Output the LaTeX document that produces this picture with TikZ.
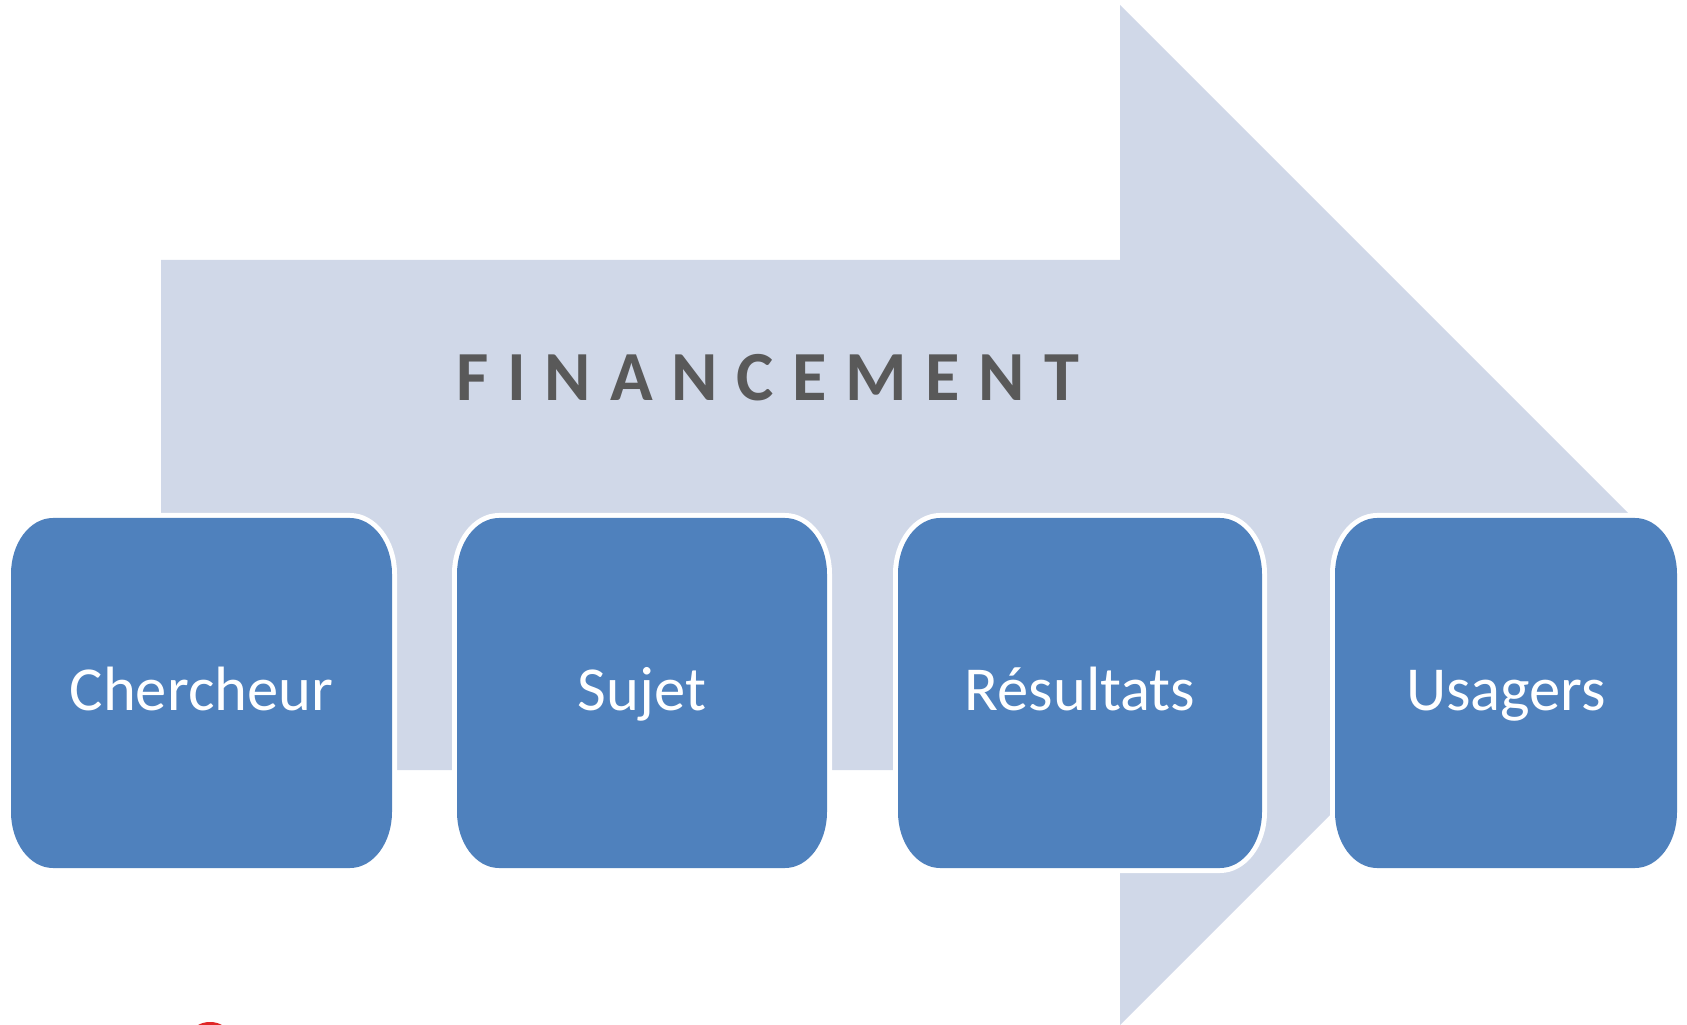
\documentclass[tikz,border=0pt]{standalone}
\usepackage{fontspec}
\setmainfont{Carlito}
\newfontfamily\finfont{Carlito}[LetterSpace=26.6]
\usetikzlibrary{backgrounds}
\definecolor{arrowfill}{HTML}{D0D8E8}
\definecolor{boxblue}{HTML}{4F81BD}
\definecolor{fintext}{HTML}{595959}
\definecolor{redmark}{HTML}{E02828}
% x1 y1 x2 y2 rx ry  (elliptical corners)
\newcommand\ellbox[6]{(#1+#5,#2) -- (#3-#5,#2) arc[start angle=-90,end angle=0,x radius=#5,y radius=#6] -- (#3,#4-#6) arc[start angle=0,end angle=90,x radius=#5,y radius=#6] -- (#1+#5,#4) arc[start angle=90,end angle=180,x radius=#5,y radius=#6] -- (#1,#2+#6) arc[start angle=180,end angle=270,x radius=#5,y radius=#6] -- cycle}
\tikzset{
  boxtext/.style={text=white, inner sep=0pt, anchor=base, font=\fontsize{31.3}{36}\selectfont},
  fintitle/.style={text=fintext, inner sep=0pt, anchor=base west, font=\finfont\bfseries\fontsize{35.2}{42}\selectfont},
}
\begin{document}
\begin{tikzpicture}[x=0.5pt,y=0.5pt]
\useasboundingbox (0,0) rectangle (1687,1024);
\begin{scope}
\clip (0,0) rectangle (1687,1024);
% big arrow
\fill[arrowfill] (161,764) -- (1120,764) -- (1120,1019) -- (1630,509) -- (1120,-1) -- (1120,254) -- (161,254) -- cycle;
% white outlines
\fill[white] \ellbox{6}{151}{397}{511}{47}{61};
\fill[white] \ellbox{452}{151}{832}{511}{47}{61};
\fill[white] \ellbox{893}{151}{1267}{511}{47}{61};
\fill[white] \ellbox{1330}{151}{1682}{511}{47}{61};
% blue boxes
\fill[boxblue] \ellbox{11}{156}{392}{506}{42}{56};
\fill[boxblue] \ellbox{457}{156}{827}{506}{42}{56};
\fill[boxblue] \ellbox{898}{156}{1262}{506}{42}{56};
\fill[boxblue] \ellbox{1335}{156}{1677}{506}{42}{56};
% red mark at bottom edge
\fill[redmark] (210,-10) ellipse[x radius=18, y radius=12];
\end{scope}
\node[fintitle] (fin) at (456,623) {FINANCEMENT};
\node[boxtext] (chercheur) at (201.5,314) {Chercheur};
\node[boxtext] (sujet) at (642,314) {Sujet};
\node[boxtext] (resultats) at (1080,314) {Résultats};
\node[boxtext] (usagers) at (1506,314) {Usagers};
\end{tikzpicture}
\end{document}
